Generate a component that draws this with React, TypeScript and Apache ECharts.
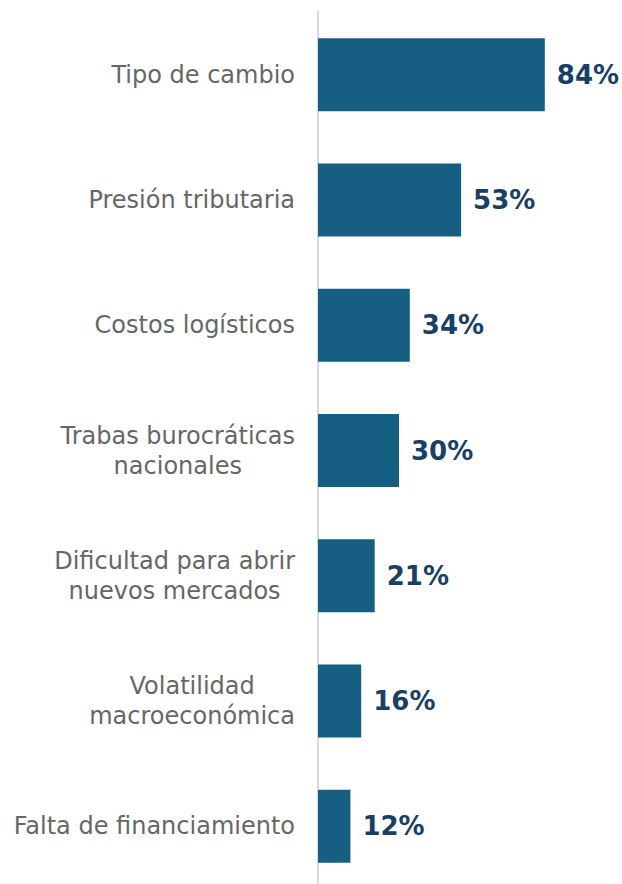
import React, { useEffect, useRef } from "react";
import * as echarts from "echarts";

const categories = [
  "Tipo de cambio",
  "Presión tributaria",
  "Costos logísticos",
  "Trabas burocráticas\nnacionales",
  "Dificultad para abrir\nnuevos mercados",
  "Volatilidad\nmacroeconómica",
  "Falta de financiamiento",
];
const values = [84, 53, 34, 30, 21, 16, 12];

export default function App() {
  const ref = useRef<HTMLDivElement>(null);
  useEffect(() => {
    if (!ref.current) return;
    const chart = echarts.init(ref.current, null, { renderer: "svg" });
    chart.setOption({
      animation: false,
      grid: { left: 318, width: 270, top: 12, height: 877, containLabel: false },
      xAxis: {
        type: "value",
        min: 0,
        max: 100,
        show: false,
      },
      yAxis: {
        type: "category",
        inverse: true,
        data: categories,
        axisLine: { show: true, lineStyle: { color: "#d9d9d9", width: 2 } },
        axisTick: { show: false },
        axisLabel: {
          margin: 23,
          align: "right",
          color: "#666666",
          fontFamily: "DejaVu Sans",
          fontSize: 24,
          lineHeight: 30,
          formatter: (v: string) =>
            v
              .split("\n")
              .map((l) => `{c|${l}}`)
              .join("\n"),
          rich: {
            c: {
              align: "center",
              color: "#666666",
              fontFamily: "DejaVu Sans",
              fontSize: 24,
              lineHeight: 30,
            },
          },
        },
      },
      series: [
        {
          type: "bar",
          data: values,
          barWidth: 73,
          itemStyle: { color: "#175f82" },
          label: {
            show: true,
            position: "right",
            distance: 12,
            formatter: "{c}%",
            color: "#1a3f66",
            fontFamily: "DejaVu Sans",
            fontWeight: "bold",
            fontSize: 26,
          },
        },
      ],
    });
    return () => chart.dispose();
  }, []);
  return (
    <div style={{ width: 622, height: 884, position: "absolute", left: 0, top: 0, overflow: "hidden" }}>
      <div ref={ref} style={{ width: 622, height: 892 }} />
    </div>
  );
}
